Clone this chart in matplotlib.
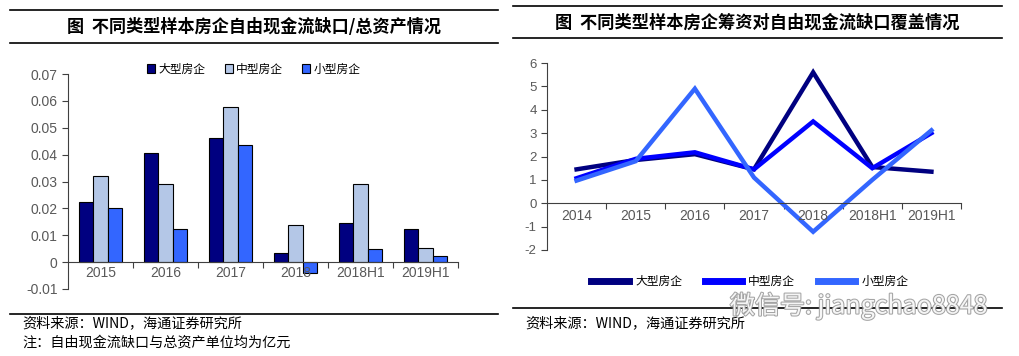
import numpy as np
import matplotlib
matplotlib.use("Agg")
import matplotlib.pyplot as plt
import matplotlib.patheffects as pe
from matplotlib.lines import Line2D

plt.rcParams['font.family'] = ['Noto Sans CJK SC', 'DejaVu Sans']

# ---------------- data ----------------
bar_cats = ['2015', '2016', '2017', '2018', '2018H1', '2019H1']
big_gap = [0.0222, 0.0407, 0.0463, 0.0033, 0.0144, 0.0122]
mid_gap = [0.0321, 0.0291, 0.0579, 0.0140, 0.0289, 0.0052]
small_gap = [0.0200, 0.0122, 0.0437, -0.0042, 0.0048, 0.0022]

line_cats = ['2014', '2015', '2016', '2017', '2018', '2018H1', '2019H1']
big_cover = [1.45, 1.85, 2.1, 1.45, 5.6, 1.55, 1.35]
mid_cover = [1.07, 1.9, 2.18, 1.45, 3.5, 1.5, 3.0]
small_cover = [0.97, 1.8, 4.9, 1.1, -1.22, 1.0, 3.12]

series_names = ['大型房企', '中型房企', '小型房企']
bar_colors = ['#000080', '#B4C7E7', '#3366FF']
line_colors = ['#000080', '#0000FF', '#3366FF']

W, H = 1019, 356
fig = plt.figure(figsize=(W / 100, H / 100), dpi=100)

def fx(px):
    return px / W

def fy(py):
    return 1 - py / H

def hline(x0, x1, y):
    fig.add_artist(Line2D([fx(x0), fx(x1)], [fy(y), fy(y)], color='black', lw=1.2))

tick_col = '#595959'
axis_col = '#404040'

# ---------------- left panel: bars ----------------
hline(10, 498, 10)
hline(10, 498, 43)
hline(10, 498, 314)
fig.text(fx(254), fy(27), '图  不同类型样本房企自由现金流缺口/总资产情况',
         ha='center', va='center', fontsize=12.3, fontweight='bold')
fig.text(fx(22), fy(323), '资料来源：WIND，海通证券研究所', ha='left', va='center', fontsize=10.2)
fig.text(fx(22), fy(343), '注：自由现金流缺口与总资产单位均为亿元', ha='left', va='center', fontsize=10.2)

ax1 = fig.add_axes([fx(68), fy(289), fx(458) - fx(68), fy(74) - fy(289)])
x = np.arange(len(bar_cats))
bw = 0.225
for i, (vals, col, nm) in enumerate(zip([big_gap, mid_gap, small_gap], bar_colors, series_names)):
    ax1.bar(x + (i - 1) * bw, vals, bw, color=col, edgecolor='black', linewidth=0.8, label=nm)
ax1.set_xlim(-0.5, len(bar_cats) - 0.5)
ax1.set_ylim(-0.01, 0.07)
ax1.set_yticks(np.arange(-0.01, 0.0701, 0.01))
ax1.set_yticklabels(['-0.01', '0', '0.01', '0.02', '0.03', '0.04', '0.05', '0.06', '0.07'],
                    fontsize=10, color=tick_col, family='Liberation Sans')
ax1.spines['top'].set_visible(False)
ax1.spines['right'].set_visible(False)
ax1.spines['bottom'].set_position(('data', 0))
for s in ['left', 'bottom']:
    ax1.spines[s].set_color(axis_col)
ax1.set_xticks(np.arange(0.5, len(bar_cats), 1.0))
ax1.set_xticklabels([])
ax1.tick_params(axis='x', direction='out', length=4, color=axis_col)
ax1.tick_params(axis='y', direction='out', length=4, color=axis_col)
for i, c in enumerate(bar_cats):
    ax1.text(i, -0.0016, c, ha='center', va='top', fontsize=10, color=tick_col,
             family='Liberation Sans')
ax1.legend(loc='upper left', bbox_to_anchor=(0.19, 1.075), ncol=3, frameon=False,
           fontsize=8.5, handlelength=0.7, handleheight=0.7, handletextpad=0.3,
           columnspacing=1.6, borderaxespad=0)

# ---------------- right panel: lines ----------------
hline(513, 1002, 6)
hline(513, 1002, 38)
hline(513, 1002, 308)
fig.text(fx(757), fy(23), '图  不同类型样本房企筹资对自由现金流缺口覆盖情况',
         ha='center', va='center', fontsize=12.4, fontweight='bold')
fig.text(fx(525), fy(323), '资料来源：WIND，海通证券研究所', ha='left', va='center', fontsize=10.2)

ax2 = fig.add_axes([fx(547), fy(250), fx(961) - fx(547), fy(63) - fy(250)])
x2 = np.arange(len(line_cats))
for vals, col, nm in zip([big_cover, mid_cover, small_cover], line_colors, series_names):
    ax2.plot(x2, vals, color=col, lw=3.2, label=nm, solid_joinstyle='miter')
ax2.set_xlim(-0.5, len(line_cats) - 0.5)
ax2.set_ylim(-2, 6)
ax2.set_yticks(range(-2, 7))
ax2.set_yticklabels([str(v) for v in range(-2, 7)], fontsize=9.5, color=tick_col,
                    family='Liberation Sans')
ax2.spines['top'].set_visible(False)
ax2.spines['right'].set_visible(False)
ax2.spines['bottom'].set_position(('data', 0))
for s in ['left', 'bottom']:
    ax2.spines[s].set_color(axis_col)
ax2.set_xticks(np.arange(0.5, len(line_cats), 1.0))
ax2.set_xticklabels([])
ax2.tick_params(axis='x', direction='out', length=4, color=axis_col)
ax2.tick_params(axis='y', direction='out', length=4, color=axis_col)
for i, c in enumerate(line_cats):
    ax2.text(i, -0.25, c, ha='center', va='top', fontsize=10, color=tick_col,
             family='Liberation Sans')
leg = ax2.legend(loc='center', bbox_to_anchor=(0.49, -0.17), ncol=3, frameon=False,
                 fontsize=8.5, handlelength=3.2, handletextpad=0.5, columnspacing=1.9)
for h in leg.get_lines():
    h.set_linewidth(5)

# watermark
fig.text(fx(730), fy(306), '微信号: jiangchao8848', ha='left', va='center', fontsize=18,
         color='white', alpha=0.9,
         path_effects=[pe.withStroke(linewidth=1.5, foreground='#9a9a9a')])

fig.savefig('out.png', dpi=100)
